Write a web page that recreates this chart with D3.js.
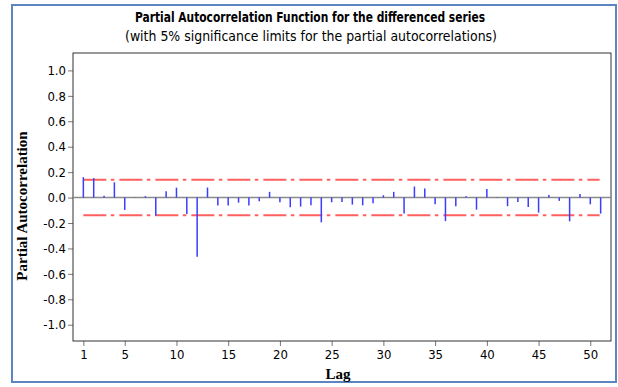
<!DOCTYPE html>
<html>
<head>
<meta charset="utf-8">
<script src="https://cdn.jsdelivr.net/npm/d3@7"></script>
<style>
  body { margin: 0; background: #fff; }
  svg { display: block; }
  .tick text { font-family: "DejaVu Sans Condensed", "DejaVu Sans", sans-serif; font-size: 13px; fill: #000; }
</style>
</head>
<body>
<div id="area"></div>
<script>
var width = 618,
    height = 387;

// PACF values, lags 1..51
var lags = d3.range(1, 52);
var pacf = [0.160, 0.153, 0.015, 0.120, -0.097, 0.003, 0.011, -0.142, 0.050, 0.078,
            -0.130, -0.466, 0.079, -0.063, -0.063, -0.040, -0.063, -0.029, 0.045, -0.037,
            -0.076, -0.071, -0.061, -0.195, -0.037, -0.034, -0.055, -0.061, -0.045, 0.018,
            0.045, -0.126, 0.087, 0.071, -0.053, -0.185, -0.068, 0.010, -0.095, 0.068,
            -0.004, -0.068, -0.034, -0.074, -0.118, 0.021, -0.026, -0.187, 0.029, -0.053,
            -0.126];
var sigLimit = 0.14;
var xTicks = [1, 5, 10, 15, 20, 25, 30, 35, 40, 45, 50];
var yTicks = [1.0, 0.8, 0.6, 0.4, 0.2, 0.0, -0.2, -0.4, -0.6, -0.8, -1.0];

var title = "Partial Autocorrelation Function for the differenced series",
    subtitle = "(with 5% significance limits for the partial autocorrelations)";

var margin = {left: 73, right: 7, top: 53, bottom: 46};

var svg = d3.select("#area").append("svg")
    .attr("width", width)
    .attr("height", height);

// outer frame
svg.append("rect")
    .attr("x", 12).attr("y", 5)
    .attr("width", 604).attr("height", 377)
    .attr("fill", "none")
    .attr("stroke", "#5b86c0")
    .attr("stroke-width", 2);

var x = d3.scaleLinear().domain([0, 52]).range([margin.left, width - margin.right]);
var y = d3.scaleLinear().domain([-1.128, 1.137]).range([height - margin.bottom, margin.top]);

// titles (Tahoma-like width forced with textLength)
svg.append("text")
    .attr("x", 310).attr("y", 22)
    .attr("text-anchor", "middle")
    .attr("textLength", 350)
    .attr("lengthAdjust", "spacingAndGlyphs")
    .style("font-family", "'DejaVu Sans Condensed', 'DejaVu Sans', sans-serif")
    .style("font-weight", "bold")
    .style("font-size", "14px")
    .text(title);

svg.append("text")
    .attr("x", 311).attr("y", 41)
    .attr("text-anchor", "middle")
    .attr("textLength", 372)
    .attr("lengthAdjust", "spacingAndGlyphs")
    .style("font-family", "'DejaVu Sans Condensed', 'DejaVu Sans', sans-serif")
    .style("font-size", "13.8px")
    .text(subtitle);

// axes
var xAxis = svg.append("g")
    .attr("transform", "translate(0," + (height - margin.bottom) + ")")
    .call(d3.axisBottom(x).tickValues(xTicks).tickSize(5).tickPadding(4).tickFormat(d3.format("d")));
var yAxis = svg.append("g")
    .attr("transform", "translate(" + margin.left + ",0)")
    .call(d3.axisLeft(y).tickValues(yTicks).tickSize(5).tickPadding(2).tickFormat(d3.format(".1f")));

[xAxis, yAxis].forEach(function(a) {
  a.select(".domain").remove();
  a.selectAll(".tick line").attr("stroke", "#777");
});
yAxis.selectAll(".tick text").text(function(d) { return d3.format(".1f")(d).replace("−", "-"); });

// plot box
svg.append("rect")
    .attr("x", x(0)).attr("y", y(1.137))
    .attr("width", x(52) - x(0)).attr("height", y(-1.128) - y(1.137))
    .attr("fill", "none")
    .attr("stroke", "#333")
    .attr("stroke-width", 1);

// zero line
svg.append("line")
    .attr("x1", x(0)).attr("x2", x(52))
    .attr("y1", y(0)).attr("y2", y(0))
    .attr("stroke", "#8a8a8a")
    .attr("stroke-width", 1.5);

// significance limits
[sigLimit, -sigLimit].forEach(function(s) {
  svg.append("line")
      .attr("x1", x(1)).attr("x2", x(50.9))
      .attr("y1", y(s)).attr("y2", y(s))
      .attr("stroke", "#ff5f5f")
      .attr("stroke-width", 2)
      .attr("stroke-dasharray", "23,4.5,3.5,5");
});

// spikes
svg.append("g").selectAll("line")
    .data(lags)
  .enter().append("line")
    .attr("x1", function(d) { return x(d); })
    .attr("x2", function(d) { return x(d); })
    .attr("y1", y(0))
    .attr("y2", function(d, i) { return y(pacf[i]); })
    .attr("stroke", "#3c3cff")
    .attr("stroke-width", 1.5);

// axis labels
svg.append("text")
    .attr("x", 338).attr("y", 379)
    .attr("text-anchor", "middle")
    .style("font-family", "'Liberation Serif', 'DejaVu Serif', serif")
    .style("font-weight", "bold")
    .style("font-size", "15px")
    .text("Lag");

svg.append("text")
    .attr("transform", "translate(27,206) rotate(-90)")
    .attr("text-anchor", "middle")
    .style("font-family", "'Liberation Serif', 'DejaVu Serif', serif")
    .style("font-weight", "bold")
    .style("font-size", "15px")
    .text("Partial Autocorrelation");
</script>
</body>
</html>
